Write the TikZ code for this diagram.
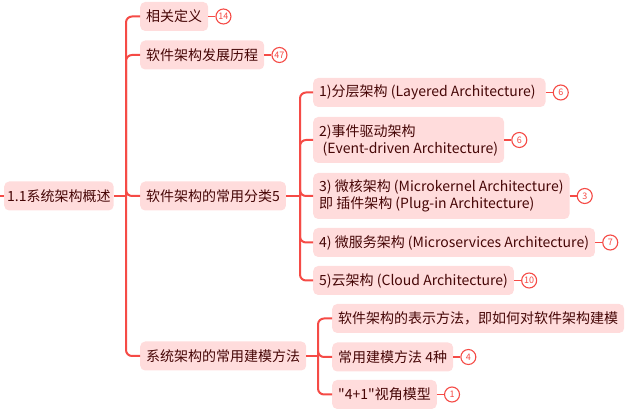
\documentclass[tikz,border=0pt]{standalone}
\usepackage{fontspec}
\setmainfont{Noto Sans CJK SC}
\newfontfamily\qfont{Noto Sans CJK SC}
\usetikzlibrary{positioning}
\definecolor{boxfill}{RGB}{255,220,220}
\definecolor{linered}{RGB}{245,75,70}
\definecolor{txt}{RGB}{70,6,6}
\tikzset{
  box/.style={fill=boxfill, rounded corners=5pt, inner xsep=6pt, inner ysep=0pt,
    minimum height=29pt, anchor=west, text=txt,
    font=\fontsize{14}{17}\selectfont, align=left},
  tallbox/.style={box, minimum height=46pt},
  badge/.style={circle, draw=linered, line width=1.1pt, fill=white, text=linered,
    inner sep=0pt, minimum size=15pt, font=\fontsize{9}{9}\selectfont},
  conn/.style={draw=linered, line width=2pt, rounded corners=6pt},
  bconn/.style={draw=linered, line width=1.8pt},
}
\begin{document}
\begin{tikzpicture}[x=1pt,y=1pt]
\useasboundingbox (0,0) rectangle (641,415);
% root
\node[box, inner xsep=3pt] (root) at (4,219) {1.1系统架构概述};
\coordinate (rootin) at (0,219);
% level 1
\node[box] (def)  at (140,398.5) {相关定义};
\node[box] (hist) at (140,360) {软件架构发展历程};
\node[box] (cat)  at (140,219) {软件架构的常用分类5};
\node[box] (mod)  at (140,59) {系统架构的常用建模方法};
% categories
\node[box]     (c1) at (313,322.5) {1)分层架构 (Layered Architecture)\hspace*{4pt}};
\node[tallbox] (c2) at (313,275) {2)事件驱动架构\\\hspace*{3.5pt}(Event-driven Architecture)};
\node[tallbox] (c3) at (313,219) {3) 微核架构 (Microkernel Architecture)\\即 插件架构 (Plug-in Architecture)};
\node[box]     (c4) at (313,172.5) {4) 微服务架构 (Microservices Architecture)};
\node[box]     (c5) at (313,134.5) {5)云架构 (Cloud Architecture)};
% modelling
\node[box] (m1) at (332,96.5) {软件架构的表示方法，即如何对软件架构建模};
\node[box] (m2) at (332,58) {常用建模方法 4种};
\node[box] (m3) at (332,20.5) {{\qfont"}4+1{\qfont"}视角模型};
% junctions
\coordinate (j1) at (126,219);
\coordinate (j2) at (300,219);
\coordinate (j3) at (318,59);
% connectors
\draw[conn] (rootin) -- (root.west);
\draw[conn] (root.east) -- (j1);
\foreach \n in {def,hist,cat,mod} \draw[conn] (j1) |- (\n.west);
\draw[conn] (cat.east) -- (j2);
\foreach \n in {c1,c2,c3,c4,c5} \draw[conn] (j2) |- (\n.west);
\draw[conn] (mod.east) -- (j3);
\foreach \n in {m1,m2,m3} \draw[conn] (j3) |- (\n.west);
% badges
\node[badge, right=7pt of def]  (bdef)  {14};
\node[badge, right=7pt of hist] (bhist) {47};
\node[badge, right=7pt of c1] (bc1) {6};
\node[badge, right=7pt of c2] (bc2) {6};
\node[badge, right=7pt of c3] (bc3) {3};
\node[badge, right=7pt of c4] (bc4) {7};
\node[badge, right=7pt of c5] (bc5) {10};
\node[badge, right=7pt of m2] (bm2) {4};
\node[badge, right=7pt of m3] (bm3) {1};
\draw[bconn] (def.east) -- (bdef.west);
\draw[bconn] (hist.east) -- (bhist.west);
\draw[bconn] (c1.east) -- (bc1.west);
\draw[bconn] (c2.east) -- (bc2.west);
\draw[bconn] (c3.east) -- (bc3.west);
\draw[bconn] (c4.east) -- (bc4.west);
\draw[bconn] (c5.east) -- (bc5.west);
\draw[bconn] (m2.east) -- (bm2.west);
\draw[bconn] (m3.east) -- (bm3.west);
\end{tikzpicture}
\end{document}
